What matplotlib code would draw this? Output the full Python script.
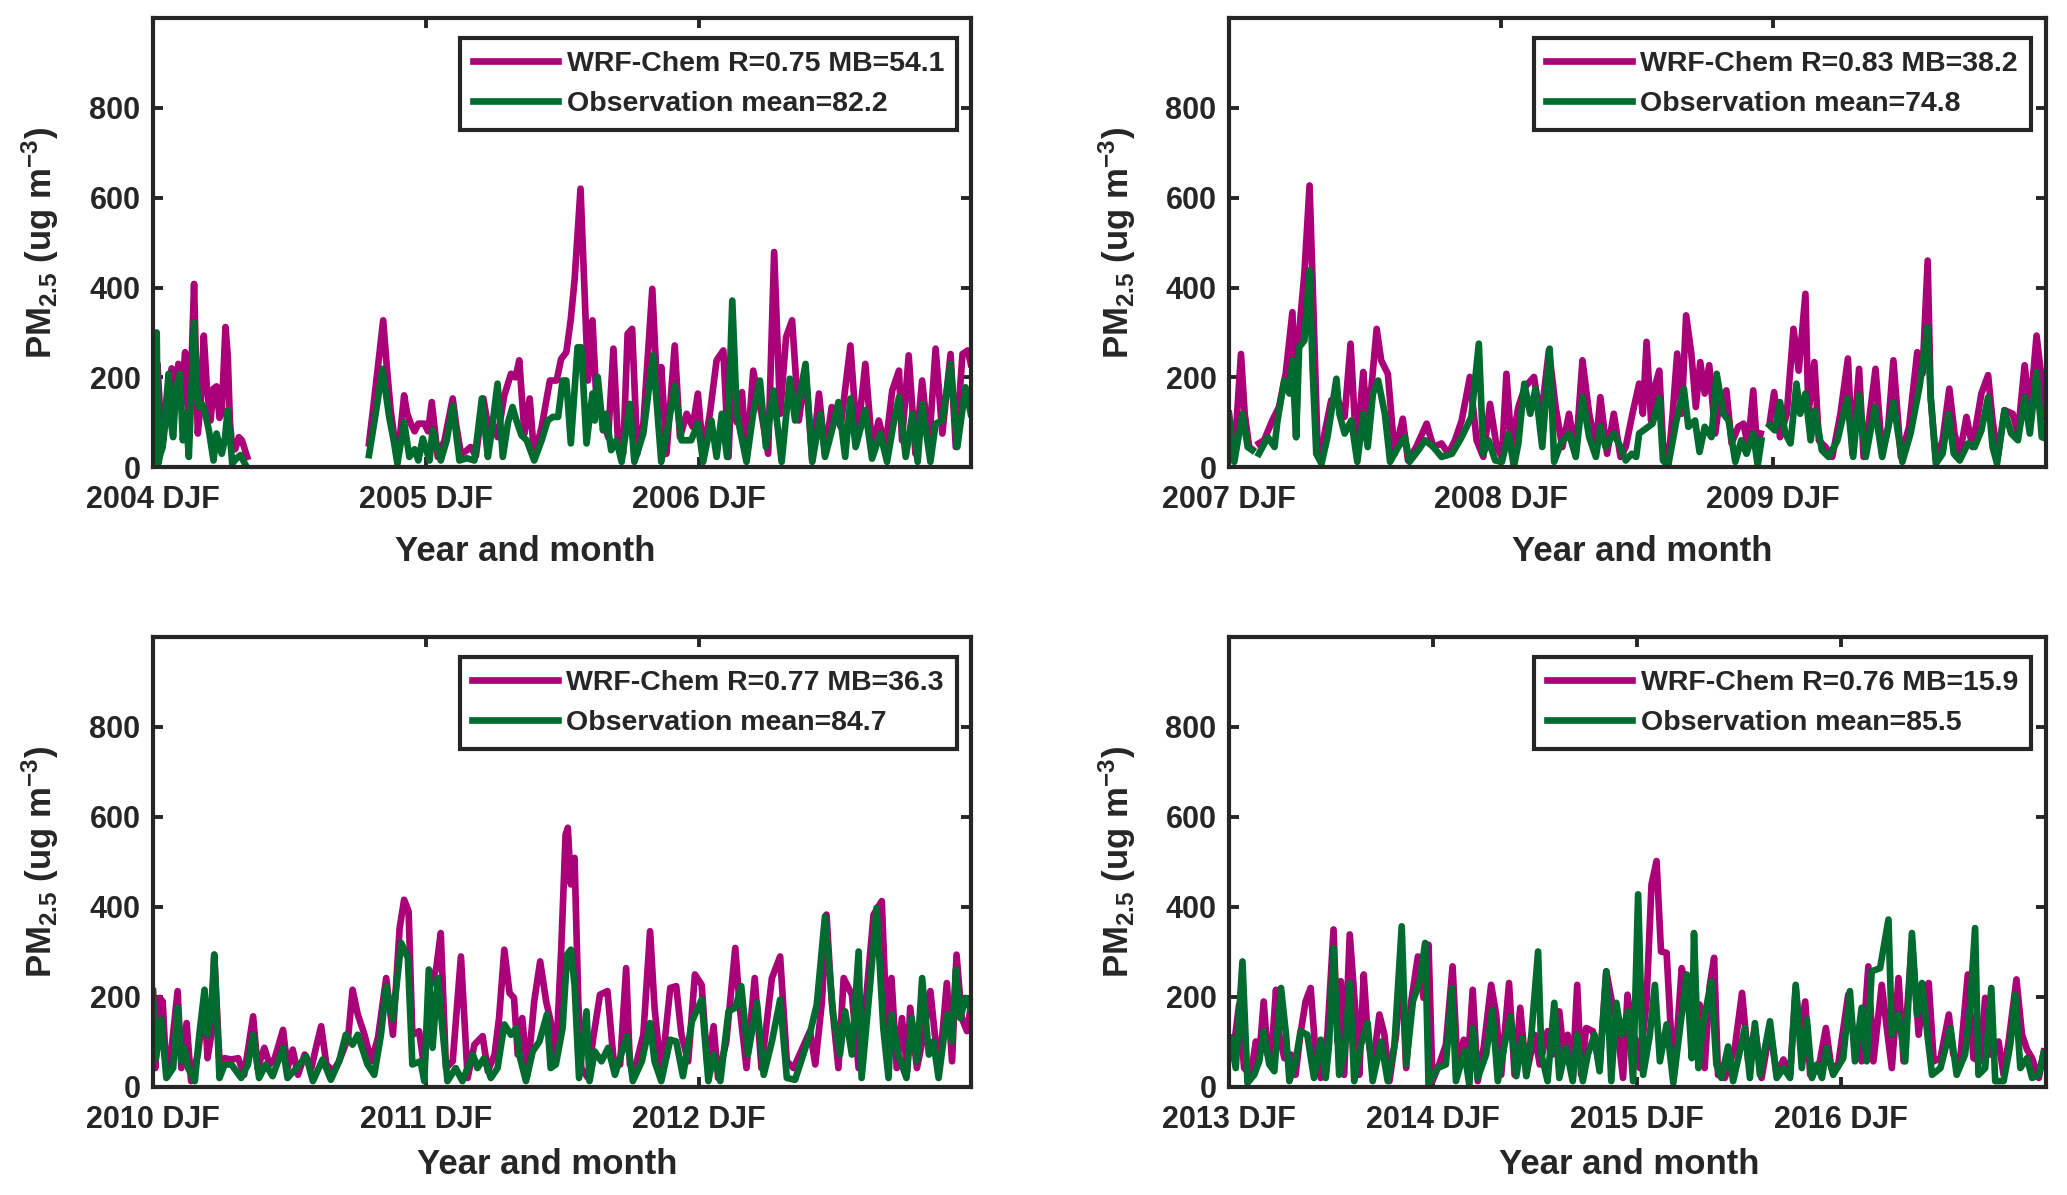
import matplotlib
matplotlib.use('Agg')
import matplotlib.pyplot as plt
import numpy as np

nan = np.nan

# ---- panel 1: 2004-2006 (days since start of DJF 2004) ----
p1_mod_day = [0, 3, 6, 10, 14, 20, 25, 30, 34, 38, 43, 47, 52, 55, 58, 60, 64, 68, 72, 77, 81, 85, 89, 92, 97, 100, 103, 106, 110, 115, 119, 126,
              200,
              289, 298, 308, 313, 318, 327, 336, 340, 345, 350, 355, 363, 368, 373, 381, 390, 401, 406, 412, 418, 425, 432, 442, 450, 456, 461, 470, 479, 485, 490, 497, 504, 510, 520, 531, 540, 546, 553, 559, 564, 572, 577, 582, 588, 593, 600, 609, 616, 622, 629, 635, 641, 648, 656, 668, 676, 680, 687, 698, 705, 714, 722, 729, 736, 745, 754, 763, 770, 774, 781, 788, 794, 803, 814, 823, 831, 839, 847, 855, 864, 873, 882, 891, 899, 908, 920, 933, 942, 953, 962, 971, 980, 989, 998, 1002, 1011, 1020, 1029, 1038, 1047, 1056, 1067, 1074, 1083, 1090, 1094]
p1_mod = [250, 195, 230, 110, 60, 160, 220, 150, 230, 140, 256, 130, 250, 408, 200, 75, 150, 293, 180, 104, 175, 180, 110, 120, 312, 250, 100, 45, 40, 67, 60, 23,
          nan,
          53, 180, 327, 220, 127, 15, 160, 120, 97, 80, 97, 97, 80, 145, 23, 60, 153, 90, 30, 35, 45, 25, 153, 75, 90, 67, 160, 208, 200, 238, 75, 153, 23, 90, 193, 193, 241, 256, 330, 416, 620, 408, 193, 327, 156, 119, 67, 264, 60, 30, 297, 308, 30, 97, 397, 119, 223, 30, 271, 67, 119, 90, 164, 30, 119, 238, 260, 23, 193, 100, 167, 15, 215, 119, 30, 479, 119, 290, 327, 104, 215, 15, 164, 30, 134, 90, 271, 60, 230, 45, 104, 45, 171, 215, 60, 249, 30, 193, 45, 264, 75, 252, 45, 252, 260, 230]
p1_obs_day = [0, 2, 5, 7, 10, 13, 18, 21, 24, 27, 31, 36, 40, 44, 48, 51, 55, 58, 61, 66, 70, 75, 81, 85, 89, 92, 96, 100, 104, 106, 112, 117, 123,
              200,
              289, 298, 307, 316, 322, 327, 336, 343, 350, 355, 361, 370, 374, 385, 393, 401, 410, 420, 430, 440, 448, 452, 461, 468, 475, 481, 487, 493, 500, 510, 520, 528, 535, 542, 548, 553, 559, 568, 573, 580, 588, 591, 595, 602, 606, 613, 620, 627, 638, 644, 656, 669, 680, 690, 698, 707, 720, 729, 736, 747, 754, 761, 768, 775, 781, 794, 803, 812, 820, 830, 841, 852, 859, 873, 882, 893, 899, 908, 917, 926, 933, 940, 953, 962, 973, 982, 990, 998, 1007, 1016, 1023, 1029, 1040, 1047, 1056, 1067, 1076, 1087, 1094]
p1_obs = [267, 280, 300, 8, 30, 45, 150, 208, 100, 67, 178, 208, 60, 120, 23, 150, 323, 200, 134, 140, 119, 80, 15, 75, 50, 30, 60, 127, 50, 8, 20, 27, 8,
          nan,
          27, 120, 219, 112, 60, 8, 100, 23, 40, 15, 64, 15, 82, 15, 60, 138, 15, 20, 15, 153, 23, 67, 186, 23, 100, 134, 100, 71, 60, 15, 60, 104, 112, 112, 193, 193, 53, 267, 267, 53, 164, 104, 201, 82, 119, 38, 60, 12, 141, 12, 75, 249, 12, 100, 182, 60, 60, 97, 12, 104, 23, 119, 23, 371, 119, 12, 120, 193, 45, 171, 12, 197, 104, 230, 12, 119, 23, 80, 145, 23, 153, 45, 127, 19, 75, 12, 90, 156, 23, 119, 12, 141, 12, 97, 104, 230, 45, 178, 119]

# ---- panel 2: 2007-2009 ----
p2_mod_day = [0, 4, 8, 16, 21, 27, 31, 35, 40, 47, 58, 67, 76, 85, 90, 93, 101, 108, 112, 119, 124, 128, 137, 146, 155, 163, 171, 180, 184, 191, 198, 204, 213, 222, 233, 240, 251, 265, 274, 285, 294, 303, 312, 323, 332, 341, 350, 359, 366, 372, 379, 388, 397, 409, 418, 429, 438, 447, 456, 465, 474, 483, 492, 498, 507, 516, 525, 532, 541, 550, 555, 560, 566, 571, 577, 582, 589, 595, 601, 607, 613, 620, 626, 632, 638, 644, 652, 658, 667, 674, 683, 690, 696, 703, 708, 713,
              719,
              725, 731, 739, 748, 757, 764, 773, 777, 785, 791, 800, 809, 820, 830, 836, 845, 851, 858, 867, 876, 884, 891, 901, 912, 923, 930, 937, 941, 948, 957, 966, 973, 980, 989, 997, 1009, 1018, 1024, 1031, 1040, 1051, 1058, 1067, 1074, 1083, 1090, 1095]
p2_mod = [119, 60, 45, 252, 119, 45, 40, nan, 53, 60, 104, 134, 208, 345, 67, 282, 430, 627, 416, 30, 15, 75, 149, 149, 112, 275, 30, 212, 119, 179, 308, 238, 208, 30, 108, 15, 45, 97, 45, 53, 30, 60, 104, 201, 60, 23, 141, 45, 23, 208, 45, 134, 179, 201, 104, 260, 134, 45, 119, 30, 238, 119, 45, 156, 30, 119, 23, 45, 119, 186, 119, 279, 104, 179, 215, 53, 8, 119, 253, 119, 338, 253, 134, 234, 164, 227, 75, 149, 171, 53, 90, 97, 45, 171, 45, 75,
          nan,
          97, 167, 67, 119, 308, 215, 386, 119, 234, 60, 45, 23, 119, 242, 30, 219, 23, 100, 219, 30, 90, 238, 23, 90, 256, 208, 460, 156, 15, 60, 175, 75, 30, 112, 45, 164, 205, 104, 23, 127, 119, 75, 227, 119, 293, 193, 112]
p2_obs_day = [0, 7, 12, 18, 25, 31, 35, 40, 52, 61, 65, 74, 81, 85, 90, 94, 101, 108, 112, 117, 124, 132, 144, 148, 155, 164, 172, 180, 186, 193, 200, 209, 216, 227, 236, 242, 254, 263, 274, 285, 299, 312, 325, 335, 341, 348, 357, 366, 375, 382, 388, 396, 404, 411, 420, 430, 436, 445, 456, 465, 474, 483, 492, 498, 505, 516, 525, 532, 540, 546, 550, 559, 568, 577, 582, 589, 600, 610, 616, 625, 631, 638, 647, 654, 663, 670, 679, 687, 694, 703, 709, 714,
              719,
              725, 732, 739, 746, 753, 761, 766, 773, 780, 786, 795, 804, 816, 829, 837, 845, 854, 866, 876, 891, 903, 914, 926, 932, 937, 941, 948, 957, 965, 972, 980, 991, 1000, 1009, 1018, 1024, 1030, 1040, 1049, 1058, 1067, 1074, 1083, 1090, 1095]
p2_obs = [112, 12, 60, 119, 45, 38, nan, 30, 67, 45, 104, 193, 164, 238, 67, 267, 282, 438, 223, 30, 8, 67, 197, 119, 75, 104, 12, 119, 45, 164, 193, 119, 12, 45, 67, 12, 38, 60, 45, 23, 30, 67, 112, 275, 30, 60, 15, 12, 75, 1, 53, 186, 119, 175, 45, 264, 12, 53, 75, 23, 156, 67, 23, 90, 45, 75, 45, 15, 30, 23, 75, 86, 97, 153, 15, 4, 104, 175, 90, 104, 34, 90, 67, 208, 119, 104, 12, 60, 30, 75, 4, 60,
          nan,
          93, 82, 145, 75, 53, 186, 119, 164, 60, 127, 38, 23, 60, 153, 23, 160, 23, 134, 23, 145, 12, 75, 179, 253, 312, 156, 8, 30, 119, 30, 15, 53, 45, 82, 156, 45, 8, 127, 75, 60, 156, 75, 212, 67, 64]

# ---- panel 3: 2010-2012 ----
p3_mod_day = [0, 3, 9, 13, 18, 24, 33, 38, 45, 51, 60, 69, 73, 78, 82, 89, 96, 105, 114, 122, 134, 140, 149, 156, 163, 174, 180, 187, 194, 203, 212, 218, 225, 232, 241, 249, 261, 267, 274, 283, 292, 301, 312, 321, 330, 336, 342, 347, 356, 363, 370, 379, 385, 392, 401, 412, 421, 430, 441, 448, 457, 463, 470, 477, 483, 488, 494, 501, 510, 518, 526, 532, 539, 546, 552, 555, 559, 564, 569, 573, 582, 589, 598, 608, 616, 625, 633, 638, 645, 656, 665, 671, 680, 692, 700, 707, 716, 725, 734, 742, 750, 756, 767, 779, 785, 794, 805, 814, 828, 839, 848, 857, 868, 879, 886, 895, 901, 908, 917, 924, 935, 944, 953, 964, 975, 982, 988, 995, 1002, 1009, 1013, 1022, 1031, 1040, 1046, 1053, 1062, 1069, 1075, 1082, 1089, 1095]
p3_mod = [213, 42, 198, 190, 27, 72, 213, 42, 142, 13, 72, 190, 64, 116, 294, 57, 64, 61, 64, 27, 157, 42, 87, 50, 64, 127, 42, 83, 27, 72, 42, 87, 135, 50, 35, 57, 109, 216, 161, 116, 57, 109, 242, 116, 353, 416, 390, 116, 124, 42, 220, 264, 342, 42, 57, 290, 20, 94, 113, 35, 72, 153, 305, 209, 198, 72, 153, 27, 190, 279, 190, 146, 57, 300, 560, 576, 450, 509, 190, 42, 20, 109, 205, 213, 64, 50, 264, 50, 42, 116, 346, 176, 27, 220, 224, 116, 57, 250, 227, 42, 135, 20, 101, 309, 176, 42, 242, 42, 242, 290, 57, 42, 83, 124, 50, 190, 383, 190, 42, 242, 205, 42, 176, 383, 413, 116, 242, 42, 153, 35, 176, 42, 116, 213, 116, 57, 231, 57, 294, 153, 124, 190]
p3_obs_day = [0, 4, 11, 18, 27, 33, 38, 42, 47, 56, 62, 69, 73, 78, 82, 89, 96, 105, 118, 127, 134, 142, 151, 160, 174, 180, 192, 205, 214, 227, 238, 249, 258, 267, 274, 287, 296, 305, 312, 321, 332, 341, 347, 358, 363, 369, 374, 381, 388, 394, 405, 414, 428, 434, 443, 452, 461, 470, 479, 486, 490, 499, 508, 517, 527, 532, 539, 548, 554, 559, 564, 570, 580, 584, 591, 600, 609, 618, 634, 642, 654, 665, 671, 680, 692, 700, 709, 721, 734, 743, 750, 759, 770, 779, 787, 796, 808, 817, 828, 839, 848, 859, 870, 879, 888, 899, 910, 919, 926, 935, 944, 948, 959, 968, 977, 984, 988, 997, 1008, 1015, 1022, 1029, 1038, 1044, 1051, 1062, 1069, 1074, 1080, 1087, 1093]
p3_obs = [209, 64, 150, 20, 42, 176, 57, 87, 42, 13, 116, 216, 116, 168, 294, 20, 50, 50, 20, 50, 116, 20, 50, 24, 87, 20, 42, 68, 13, 61, 16, 57, 116, 94, 116, 50, 27, 116, 224, 150, 320, 287, 50, 57, 13, 261, 87, 242, 116, 13, 42, 13, 72, 42, 64, 20, 42, 139, 116, 131, 72, 13, 79, 101, 161, 42, 50, 131, 294, 305, 227, 20, 168, 13, 79, 57, 87, 27, 113, 13, 57, 142, 57, 13, 105, 101, 24, 146, 194, 13, 72, 13, 168, 176, 224, 72, 187, 27, 101, 194, 20, 16, 72, 120, 183, 379, 161, 72, 168, 72, 301, 20, 220, 398, 131, 20, 161, 72, 20, 153, 57, 242, 72, 101, 20, 161, 101, 261, 153, 198, 176]

# ---- panel 4: 2013-2016 ----
p4_mod_day = [0, 6, 18, 27, 39, 48, 54, 62, 69, 75, 84, 90, 99, 111, 119, 128, 137, 146, 155, 164, 176, 187, 194, 200, 206, 216, 227, 233, 241, 248, 257, 269, 278, 287, 299, 308, 317, 326, 338, 348, 357, 364, 376, 388, 400, 409, 420, 427, 436, 445, 456, 469, 478, 487, 501, 511, 521, 532, 547, 556, 570, 579, 591, 600, 606, 615, 623, 630, 639, 651, 663, 675, 687, 696, 705, 713, 723, 730, 735, 747, 756, 765, 773, 783, 791, 798, 810, 819, 831, 842, 851, 860, 868, 875, 887, 905, 918, 929, 941, 953, 968, 980, 992, 1004, 1014, 1022, 1031, 1040, 1055, 1068, 1078, 1090, 1108, 1117, 1132, 1144, 1153, 1168, 1177, 1186, 1198, 1207, 1222, 1234, 1243, 1252, 1261, 1273, 1288, 1296, 1308, 1322, 1332, 1344, 1353, 1362, 1377, 1386, 1395, 1409, 1419, 1428, 1437, 1449, 1458]
p4_mod = [109, 64, 183, 42, 27, 101, 64, 190, 72, 57, 216, 116, 64, 72, 27, 120, 190, 220, 72, 20, 116, 350, 101, 235, 27, 339, 153, 27, 250, 116, 42, 161, 116, 13, 116, 287, 42, 190, 290, 198, 316, 13, 50, 94, 268, 42, 105, 42, 216, 13, 90, 227, 161, 27, 231, 27, 176, 27, 116, 50, 124, 72, 168, 57, 116, 27, 227, 27, 131, 124, 42, 257, 176, 116, 20, 205, 116, 100, 42, 190, 450, 502, 301, 298, 116, 50, 264, 220, 72, 183, 42, 224, 287, 27, 20, 87, 209, 57, 131, 20, 131, 27, 61, 27, 220, 116, 190, 27, 42, 131, 42, 50, 205, 116, 57, 268, 57, 227, 131, 42, 242, 57, 324, 116, 220, 231, 57, 64, 161, 72, 57, 250, 64, 57, 198, 72, 101, 27, 101, 239, 116, 83, 64, 20, 79]
p4_obs_day = [0, 3, 12, 24, 33, 45, 54, 62, 72, 81, 93, 102, 108, 119, 128, 140, 152, 164, 173, 179, 187, 197, 207, 216, 224, 236, 248, 257, 272, 284, 296, 309, 317, 329, 341, 351, 357, 373, 388, 399, 406, 421, 430, 436, 445, 460, 471, 481, 493, 504, 514, 525, 532, 541, 553, 559, 570, 582, 591, 603, 615, 623, 633, 642, 654, 663, 675, 684, 693, 702, 714, 723, 732, 741, 753, 762, 771, 783, 795, 807, 819, 828, 832, 840, 848, 863, 872, 881, 893, 902, 914, 923, 932, 941, 950, 968, 980, 992, 1004, 1014, 1025, 1034, 1043, 1052, 1061, 1069, 1081, 1099, 1111, 1120, 1132, 1141, 1150, 1165, 1180, 1186, 1198, 1210, 1222, 1231, 1240, 1249, 1258, 1273, 1291, 1302, 1317, 1326, 1335, 1341, 1353, 1364, 1371, 1386, 1398, 1407, 1416, 1428, 1437, 1449, 1458]
p4_obs = [87, 109, 42, 279, 9, 27, 57, 124, 50, 35, 220, 116, 13, 57, 124, 116, 20, 105, 20, 94, 309, 27, 79, 231, 13, 94, 142, 13, 101, 13, 94, 357, 50, 190, 235, 320, 5, 42, 50, 220, 13, 79, 5, 131, 20, 72, 172, 13, 94, 157, 24, 109, 24, 116, 301, 72, 13, 187, 20, 87, 13, 116, 13, 72, 116, 35, 257, 13, 187, 116, 168, 13, 428, 27, 116, 227, 57, 139, 9, 131, 250, 64, 342, 42, 139, 235, 50, 20, 90, 13, 79, 131, 20, 142, 27, 146, 20, 42, 20, 227, 42, 150, 20, 50, 20, 87, 27, 64, 213, 57, 176, 57, 257, 264, 372, 116, 161, 57, 342, 161, 231, 124, 27, 42, 131, 27, 72, 176, 353, 27, 42, 220, 13, 13, 94, 205, 42, 64, 20, 27, 76]

tick_3yr = [0, 365, 730]
tick_4yr = [0, 365, 730, 1095]
p1_ticklabels = ['2004 DJF', '2005 DJF', '2006 DJF']
p2_ticklabels = ['2007 DJF', '2008 DJF', '2009 DJF']
p3_ticklabels = ['2010 DJF', '2011 DJF', '2012 DJF']
p4_ticklabels = ['2013 DJF', '2014 DJF', '2015 DJF', '2016 DJF']

p1_labels = ['WRF-Chem R=0.75 MB=54.1', 'Observation mean=82.2']
p2_labels = ['WRF-Chem R=0.83 MB=38.2', 'Observation mean=74.8']
p3_labels = ['WRF-Chem R=0.77 MB=36.3', 'Observation mean=84.7']
p4_labels = ['WRF-Chem R=0.76 MB=15.9', 'Observation mean=85.5']

plt.rcParams['font.family'] = ['Liberation Sans', 'DejaVu Sans']
plt.rcParams['font.weight'] = 'bold'
plt.rcParams['mathtext.fontset'] = 'custom'
plt.rcParams['mathtext.rm'] = 'Liberation Sans:bold'
plt.rcParams['mathtext.it'] = 'Liberation Sans:bold'
plt.rcParams['mathtext.bf'] = 'Liberation Sans:bold'
plt.rcParams['mathtext.sf'] = 'Liberation Sans:bold'
plt.rcParams['mathtext.default'] = 'rm'

MOD_COLOR = '#AA0078'
OBS_COLOR = '#006B2E'
INK = '#262626'


def draw_panel(ax, mod_day, mod, obs_day, obs, ticks, ticklabels, xmax, labels, xlab_x, xlab_y):
    ax.plot(mod_day, mod, color=MOD_COLOR, lw=4.8, label=labels[0])
    ax.plot(obs_day, obs, color=OBS_COLOR, lw=4.8, label=labels[1])
    ax.set_xlim(0, xmax)
    ax.set_ylim(0, 1000)
    ax.set_xticks(ticks)
    ax.set_xticklabels(ticklabels)
    ax.set_yticks([0, 200, 400, 600, 800])
    ax.tick_params(direction='in', length=7, width=2.8, top=True, right=True,
                   labelsize=22, colors=INK)
    ax.tick_params(axis='x', pad=13)
    ax.tick_params(axis='y', pad=9)
    for s in ax.spines.values():
        s.set_linewidth(3)
        s.set_color(INK)
    ax.set_xlabel('Year and month', fontsize=25, fontweight='bold', color=INK)
    ax.set_ylabel(r'PM$_{2.5}$ (ug m$^{-3}$)', fontsize=25, fontweight='bold', color=INK)
    ax.xaxis.set_label_coords(xlab_x, xlab_y)
    ax.yaxis.set_label_coords(-0.112, 0.5)
    leg = ax.legend(loc='upper right', bbox_to_anchor=(0.982, 0.955), borderaxespad=0,
                    fontsize=20.5, handlelength=3.0, handletextpad=0.3,
                    borderpad=0.45, labelspacing=0.5, fancybox=False, framealpha=1)
    leg.get_frame().set_edgecolor(INK)
    leg.get_frame().set_linewidth(3)
    for t in leg.get_texts():
        t.set_color(INK)


fig = plt.figure(figsize=(20.67, 11.95), dpi=100)
ax1 = fig.add_axes([0.074, 0.609, 0.396, 0.376])
ax2 = fig.add_axes([0.5946, 0.609, 0.395, 0.376])
ax3 = fig.add_axes([0.074, 0.0904, 0.396, 0.3766])
ax4 = fig.add_axes([0.5946, 0.0904, 0.395, 0.3766])

draw_panel(ax1, p1_mod_day, p1_mod, p1_obs_day, p1_obs, tick_3yr, p1_ticklabels, 1095, p1_labels, 0.455, -0.15)
draw_panel(ax2, p2_mod_day, p2_mod, p2_obs_day, p2_obs, tick_3yr, p2_ticklabels, 1095, p2_labels, 0.506, -0.15)
draw_panel(ax3, p3_mod_day, p3_mod, p3_obs_day, p3_obs, tick_3yr, p3_ticklabels, 1095, p3_labels, 0.482, -0.135)
draw_panel(ax4, p4_mod_day, p4_mod, p4_obs_day, p4_obs, tick_4yr, p4_ticklabels, 1461, p4_labels, 0.49, -0.135)

fig.savefig('out.png', dpi=100, facecolor='white')
